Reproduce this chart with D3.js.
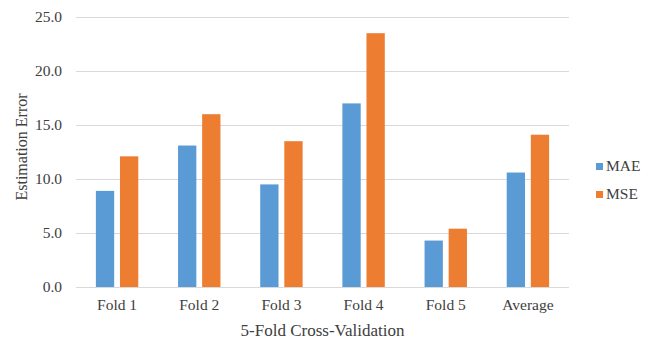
<!DOCTYPE html>
<html>
<head>
<meta charset="utf-8">
<script src="https://cdn.jsdelivr.net/npm/d3@7"></script>
<style>
  html, body { margin: 0; padding: 0; background: #fff; }
  svg text { font-family: "Liberation Serif", "Times New Roman", serif; fill: #404040; }
</style>
</head>
<body>
<svg id="chart" width="656" height="339"></svg>
<script>
// Cross-validation error per fold
const categories = ["Fold 1", "Fold 2", "Fold 3", "Fold 4", "Fold 5", "Average"];
const seriesNames = ["MAE", "MSE"];
const maeValues = [8.9, 13.1, 9.5, 17.0, 4.3, 10.6];
const mseValues = [12.1, 16.0, 13.5, 23.5, 5.4, 14.1];
const yTicks = [0, 5, 10, 15, 20, 25];
const colors = ["#5B9BD5", "#ED7D31"];

const svg = d3.select("#chart");
const margin = { left: 76, right: 87, top: 17, bottom: 52 };
const width = 656, height = 339;

const x = d3.scaleBand().domain(categories)
  .range([margin.left, width - margin.right]);
const y = d3.scaleLinear().domain([0, 25])
  .range([height - margin.bottom, margin.top]);

// Horizontal gridlines
svg.append("g").selectAll("line").data(yTicks).join("line")
  .attr("x1", margin.left).attr("x2", width - margin.right)
  .attr("y1", d => Math.round(y(d)) + 0.5).attr("y2", d => Math.round(y(d)) + 0.5)
  .attr("stroke", "#D9D9D9").attr("stroke-width", 1);

// Y axis tick labels
const yAxis = d3.axisLeft(y).tickValues(yTicks).tickFormat(d3.format(".1f")).tickSize(0).tickPadding(14);
const yg = svg.append("g").attr("transform", `translate(${margin.left},0)`).call(yAxis);
yg.select(".domain").remove();
yg.selectAll("text").style("font-size", "15.5px").attr("fill", "#404040")
  .style("font-family", "'Liberation Serif', serif");

// X axis category labels
const xAxis = d3.axisBottom(x).tickSize(0).tickPadding(12);
const xg = svg.append("g").attr("transform", `translate(0,${height - margin.bottom})`).call(xAxis);
xg.select(".domain").remove();
xg.selectAll("text").style("font-size", "15.5px").attr("fill", "#404040")
  .style("font-family", "'Liberation Serif', serif");

// Grouped bars, one pair per category
const barW = 18.3, barGap = 5.8;
const series = [maeValues, mseValues];
seriesNames.forEach((name, si) => {
  svg.append("g").selectAll("rect").data(categories).join("rect")
    .attr("x", d => x(d) + x.bandwidth() / 2 + (si === 0 ? -barGap / 2 - barW : barGap / 2))
    .attr("y", (d, i) => y(series[si][i]))
    .attr("width", barW)
    .attr("height", (d, i) => y(0) - y(series[si][i]))
    .attr("fill", colors[si]);
});

// Baseline on top of bars
svg.append("line")
  .attr("x1", margin.left).attr("x2", width - margin.right)
  .attr("y1", Math.round(y(0)) + 0.5).attr("y2", Math.round(y(0)) + 0.5)
  .attr("stroke", "#D9D9D9");

// Axis titles
svg.append("text")
  .attr("transform", `translate(27,147) rotate(-90)`)
  .attr("text-anchor", "middle").style("font-size", "16px")
  .text("Estimation Error");
svg.append("text")
  .attr("x", (margin.left + width - margin.right) / 2).attr("y", 336)
  .attr("text-anchor", "middle").style("font-size", "17px")
  .text("5-Fold Cross-Validation");

// Legend
const legend = svg.append("g").selectAll("g").data(seriesNames).join("g")
  .attr("transform", (d, i) => `translate(596,${166 + i * 28})`);
legend.append("rect").attr("x", 0).attr("y", -3).attr("width", 7).attr("height", 7)
  .attr("fill", (d, i) => colors[i]);
legend.append("text").attr("x", 10).attr("y", 5).style("font-size", "15.5px").text(d => d);
</script>
</body>
</html>
